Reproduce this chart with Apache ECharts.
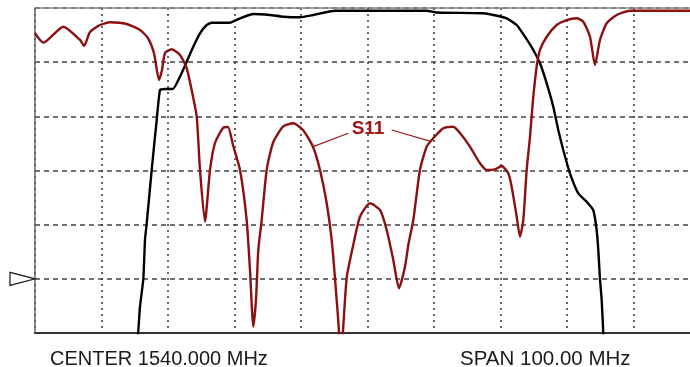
<!DOCTYPE html>
<html>
<head>
<meta charset="utf-8">
<title>S11 / S21</title>
<script src="https://cdn.jsdelivr.net/npm/echarts@6/dist/echarts.min.js"></script>
<style>
  html, body { margin: 0; padding: 0; background: #fff; }
  #chart { width: 690px; height: 367px; }
</style>
</head>
<body>
<div id="chart"></div>
<script>
// 频率范围 (MHz)，右侧屏幕被裁掉一部分
var startFreq = 1490;
var stopFreq = 1588.5;
var refLevel = -50;
var centerText = 'CENTER 1540.000 MHz';
var spanText = 'SPAN 100.00 MHz';

// S11 反射曲线
var s11Freq = [1490.0, 1491.25, 1494.26, 1496.77, 1497.37, 1498.27, 1499.77, 1501.28, 1503.79, 1505.79,
  1506.99, 1507.89, 1508.65, 1509.1, 1509.55, 1510.56, 1511.8, 1512.81, 1513.56, 1514.32,
  1514.81, 1515.56, 1516.32, 1517.07, 1518.27, 1519.02, 1519.77, 1520.83, 1521.83, 1522.33,
  1522.83, 1523.23, 1523.58, 1524.09, 1524.84, 1525.79, 1527.29, 1528.84, 1530.3, 1531.8,
  1532.86, 1533.86, 1534.62, 1535.11, 1535.56, 1536.0, 1536.87, 1537.86, 1538.87, 1540.38,
  1541.88, 1542.89, 1543.88, 1544.74, 1545.64, 1546.14, 1546.89, 1547.89, 1548.9, 1549.89,
  1551.4, 1552.9, 1553.91, 1555.41, 1556.92, 1557.92, 1559.17, 1560.18, 1561.17, 1561.68,
  1562.44, 1562.93, 1563.43, 1563.94, 1564.44, 1564.89, 1565.44, 1565.94, 1566.95, 1568.45,
  1569.95, 1571.46, 1572.45, 1573.46, 1574.21, 1574.96, 1575.97, 1577.47, 1579.47, 1590.0];
var s11Db = [-4.67, -6.4, -3.45, -5.9, -7.0, -4.43, -3.14, -2.64, -2.95, -4.06,
  -5.54, -8.31, -13.29, -11.45, -8.31, -7.62, -8.68, -11.08, -15.14, -20.07,
  -29.9, -39.45, -29.9, -24.92, -22.15, -21.97, -25.29, -29.9, -39.14, -48.37,
  -58.83, -53.9, -44.67, -39.14, -29.9, -24.92, -21.91, -21.28, -22.52, -25.6,
  -29.9, -36.0, -42.83, -49.84, -56.99, -64.0, -49.84, -43.75, -38.53, -36.05,
  -37.29, -40.98, -46.52, -51.74, -47.76, -43.75, -39.14, -29.9, -25.6, -24.05,
  -22.21, -21.91, -23.08, -25.6, -28.67, -29.9, -29.78, -29.17, -30.52, -32.99,
  -38.53, -42.22, -39.14, -29.9, -23.76, -16.98, -10.84, -7.75, -5.3, -3.14,
  -2.22, -1.9, -2.53, -5.3, -10.52, -5.91, -2.82, -1.29, -0.5, -0.5];

// S21 传输曲线
var s21Freq = [1505.4, 1505.79, 1506.29, 1506.54, 1506.8, 1507.55, 1508.3, 1508.8, 1509.55, 1510.75,
  1511.8, 1512.81, 1513.8, 1514.81, 1515.82, 1516.57, 1519.32, 1520.83, 1522.83, 1525.34,
  1527.34, 1529.85, 1531.85, 1535.11, 1548.9, 1550.41, 1557.41, 1558.92, 1560.93, 1562.44,
  1563.68, 1564.93, 1565.94, 1566.95, 1567.94, 1568.69, 1569.44, 1570.45, 1571.7, 1572.96,
  1573.95, 1574.46, 1574.71, 1574.96, 1575.22, 1575.46, 1575.56];
var s21Db = [-62.2, -55.14, -50.03, -42.83, -39.75, -29.9, -20.68, -15.14, -14.95, -14.95,
  -12.68, -9.91, -7.14, -4.67, -3.14, -2.71, -2.71, -1.9, -1.11, -1.29,
  -1.61, -1.72, -1.29, -0.5, -0.5, -0.83, -0.98, -1.29, -1.9, -3.14,
  -5.3, -7.75, -10.21, -13.9, -18.22, -22.52, -26.21, -30.52, -34.21, -35.76,
  -37.29, -40.98, -44.67, -50.03, -53.9, -60.0, -62.2];

// S11 标注位置
var s11LabelAt = [1540.08, -22.34];
var s11LeaderLeft = [[1537.11, -23.13], [1531.85, -25.6]];
var s11LeaderRight = [[1543.64, -22.52], [1549.65, -24.68]];

var chartDom = document.getElementById('chart');
var myChart = echarts.init(chartDom, null, { renderer: 'canvas' });

function zip(xs, ys) {
  return xs.map(function (x, i) { return [x, ys[i]]; });
}

function getOption() {
  return {
    backgroundColor: '#fff',
    animation: false,
    grid: {
      left: 35,
      top: 8,
      right: 0,
      bottom: 34
    },
    title: [
      {
        text: centerText,
        left: 45,
        top: 344,
        textStyle: { fontFamily: 'Liberation Sans', fontSize: 20, fontWeight: 'normal', color: '#1a1a1a' }
      },
      {
        text: spanText,
        left: 455,
        top: 344,
        textStyle: { fontFamily: 'Liberation Sans', fontSize: 20.5, fontWeight: 'normal', color: '#1a1a1a' }
      }
    ],
    xAxis: [
      {
        type: 'value',
        min: startFreq,
        max: stopFreq,
        interval: 10,
        axisLabel: { show: false },
        axisTick: { show: false },
        axisLine: { show: true, onZero: false, lineStyle: { color: '#333', width: 2 } },
        splitLine: {
          show: true,
          showMaxLine: false,
          lineStyle: { color: '#333', width: 1.5, type: [2, 4] }
        }
      },
      {
        // 顶部边框
        type: 'value',
        position: 'top',
        min: startFreq,
        max: stopFreq,
        interval: 10,
        axisLabel: { show: false },
        axisTick: { show: false },
        axisLine: { show: true, onZero: false, lineStyle: { color: '#888', width: 1.5 } },
        splitLine: { show: false }
      }
    ],
    yAxis: {
      type: 'value',
      min: -60,
      max: 0,
      interval: 10,
      axisLabel: { show: false },
      axisTick: { show: false },
      axisLine: { show: true, onZero: false, lineStyle: { color: '#666', width: 1.5 } },
      splitLine: {
        show: true,
        lineStyle: { color: '#444', width: 1.5, type: [5, 4] }
      }
    },
    series: [
      {
        name: 'S21',
        type: 'line',
        symbol: 'none',
        clip: true,
        smooth: 0.15,
        lineStyle: { color: '#000', width: 2.4 },
        data: zip(s21Freq, s21Db),
        z: 3
      },
      {
        name: 'S11',
        type: 'line',
        symbol: 'none',
        clip: true,
        smooth: 0.2,
        lineStyle: { color: '#8b1010', width: 2.4 },
        data: zip(s11Freq, s11Db),
        z: 4,
        markLine: {
          silent: true,
          symbol: 'none',
          label: { show: false },
          lineStyle: { color: '#9a1a1a', width: 1.2, type: 'solid' },
          data: [
            [{ coord: s11LeaderLeft[0] }, { coord: s11LeaderLeft[1] }],
            [{ coord: s11LeaderRight[0] }, { coord: s11LeaderRight[1] }]
          ]
        },
        markPoint: {
          silent: true,
          symbol: 'circle',
          symbolSize: 1,
          itemStyle: { color: 'transparent' },
          label: {
            show: true,
            position: 'inside',
            formatter: 'S11',
            fontFamily: 'Liberation Sans',
            fontSize: 19,
            fontWeight: 'bold',
            color: '#a01818'
          },
          data: [{ coord: s11LabelAt }]
        }
      }
    ]
  };
}

myChart.setOption(getOption());

// 参考电平标记 (左侧三角)
var refPt = myChart.convertToPixel({ gridIndex: 0 }, [startFreq, refLevel]);
myChart.setOption({
  graphic: [
    {
      type: 'polygon',
      shape: {
        points: [[refPt[0] - 25, refPt[1] - 6.5], [refPt[0] - 25, refPt[1] + 6.5], [refPt[0], refPt[1]]]
      },
      style: { fill: '#fff', stroke: '#222', lineWidth: 1.3 },
      z: 10
    }
  ]
});
</script>
</body>
</html>
